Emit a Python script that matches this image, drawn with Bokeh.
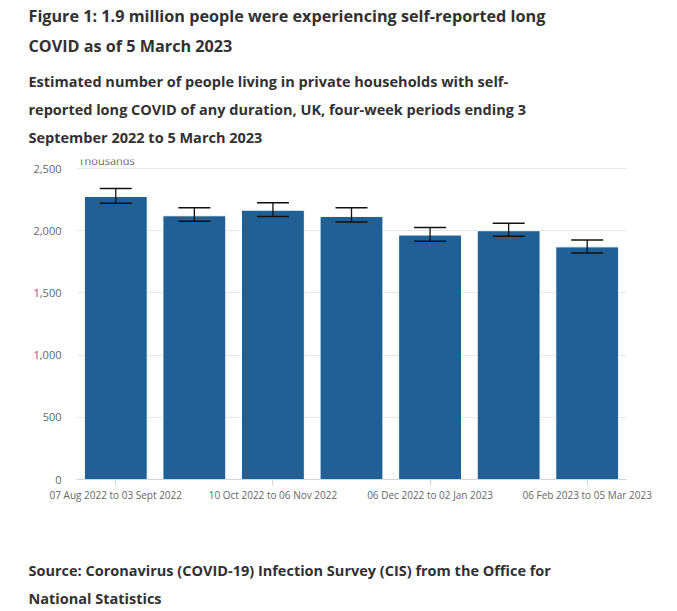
from bokeh.plotting import figure
from bokeh.models import (ColumnDataSource, Range1d, FixedTicker, NumeralTickFormatter,
                          Whisker, TeeHead, Title, Label)
from bokeh.embed import file_html
from bokeh.resources import INLINE

# Four-week periods (thousands of people with self-reported long COVID)
periods = [
    "07 Aug 2022 to 03 Sept 2022",
    "05 Sept 2022 to 02 Oct 2022",
    "10 Oct 2022 to 06 Nov 2022",
    "07 Nov 2022 to 04 Dec 2022",
    "06 Dec 2022 to 02 Jan 2023",
    "09 Jan 2023 to 05 Feb 2023",
    "06 Feb 2023 to 05 Mar 2023",
]
estimate = [2275, 2120, 2165, 2115, 1965, 2000, 1870]
lower_ci = [2220, 2075, 2115, 2070, 1915, 1955, 1820]
upper_ci = [2340, 2185, 2225, 2185, 2025, 2060, 1925]
labelled_periods = [0, 2, 4, 6]
y_ticks = [0, 500, 1000, 1500, 2000, 2500]

title_lines = [
    "Figure 1: 1.9 million people were experiencing self-reported long",
    "COVID as of 5 March 2023",
]
subtitle_lines = [
    "Estimated number of people living in private households with self-",
    "reported long COVID of any duration, UK, four-week periods ending 3",
    "September 2022 to 5 March 2023",
]
source_lines = [
    "Source: Coronavirus (COVID-19) Infection Survey (CIS) from the Office for",
    "National Statistics",
]

FONT = "Open Sans"
DARK = "#323132"
GREY = "#666666"

# Frame geometry: the top gridline sits a little below the frame's top edge,
# leaving room for the units label inside the frame.
FRAME_TOP, FRAME_BOTTOM, TOP_GRID_PX = 159, 479, 168
y_max = y_ticks[-1] * (FRAME_BOTTOM - FRAME_TOP) / (FRAME_BOTTOM - TOP_GRID_PX)

src = ColumnDataSource(dict(
    idx=list(range(len(periods))),
    period=periods,
    estimate=estimate,
    lower=lower_ci,
    upper=upper_ci,
))

p = figure(
    width=677, height=611, title=None,
    x_range=Range1d(-0.5, len(periods) - 0.5),
    y_range=Range1d(0, y_max),
    output_backend="svg", toolbar_location=None,
    min_border_left=76, min_border_right=51,
    min_border_top=FRAME_TOP, min_border_bottom=611 - FRAME_BOTTOM,
)
p.outline_line_color = None
p.background_fill_color = "white"
p.border_fill_color = "white"

p.vbar(x="idx", top="estimate", bottom=0, width=0.8, source=src,
       fill_color="#206095", line_color="white", line_width=1)

err = Whisker(base="idx", lower="lower", upper="upper", source=src,
              line_color="#111111", line_width=1.3, level="overlay")
err.upper_head = TeeHead(size=32, line_color="#111111", line_width=1.5)
err.lower_head = TeeHead(size=32, line_color="#111111", line_width=1.5)
p.add_layout(err)

# Axes
p.xgrid.visible = False
p.ygrid.grid_line_color = "#e6e6e6"
p.ygrid.grid_line_width = 1

p.yaxis.ticker = FixedTicker(ticks=y_ticks)
p.yaxis.formatter = NumeralTickFormatter(format="0,0")
p.yaxis.axis_line_color = None
p.yaxis.major_tick_line_color = None
p.yaxis.minor_tick_line_color = None
p.yaxis.major_label_standoff = 9
p.yaxis.major_label_text_font = FONT
p.yaxis.major_label_text_font_size = "11px"
p.yaxis.major_label_text_color = GREY

p.xaxis.ticker = FixedTicker(ticks=labelled_periods)
p.xaxis.major_label_overrides = {i: periods[i] for i in labelled_periods}
p.xaxis.axis_line_color = "#ccd6eb"
p.xaxis.major_tick_line_color = "#ccd6eb"
p.xaxis.major_tick_in = 0
p.xaxis.major_tick_out = 6
p.xaxis.minor_tick_line_color = None
p.xaxis.major_label_standoff = 2
p.xaxis.major_label_text_font = FONT
p.xaxis.major_label_text_font_size = "10px"
p.xaxis.major_label_text_color = GREY

# Units label resting on the top gridline
p.add_layout(Label(x=-0.5, y=y_ticks[-1], x_offset=2, y_offset=1, text="Thousands",
                   text_font=FONT, text_font_size="11px", text_color=GREY,
                   text_baseline="bottom", text_align="left"))

# Titles stacked outward from the plot frame: subtitle, then main title
subtitle = Title(
    text="\n".join(subtitle_lines),
    align="left", offset=-48, standoff=24, text_font=FONT, text_font_size="14.5px",
    text_font_style="bold", text_color=DARK, text_line_height=1.494)
main_title = Title(
    text="\n".join(title_lines),
    align="left", offset=-48, standoff=0, text_font=FONT, text_font_size="16.2px",
    text_font_style="bold", text_color=DARK, text_line_height=1.39)
p.add_layout(subtitle, "above")
p.add_layout(main_title, "above")

# Source note sits two blank lines below the axis labels
source_note = Title(
    text="\n\n" + "\n".join(source_lines),
    align="left", offset=-48, standoff=2, vertical_align="top",
    text_font=FONT, text_font_size="14.5px",
    text_font_style="bold", text_color=DARK, text_line_height=1.468)
p.add_layout(source_note, "below")

open("out.html", "w").write(file_html(p, INLINE))
